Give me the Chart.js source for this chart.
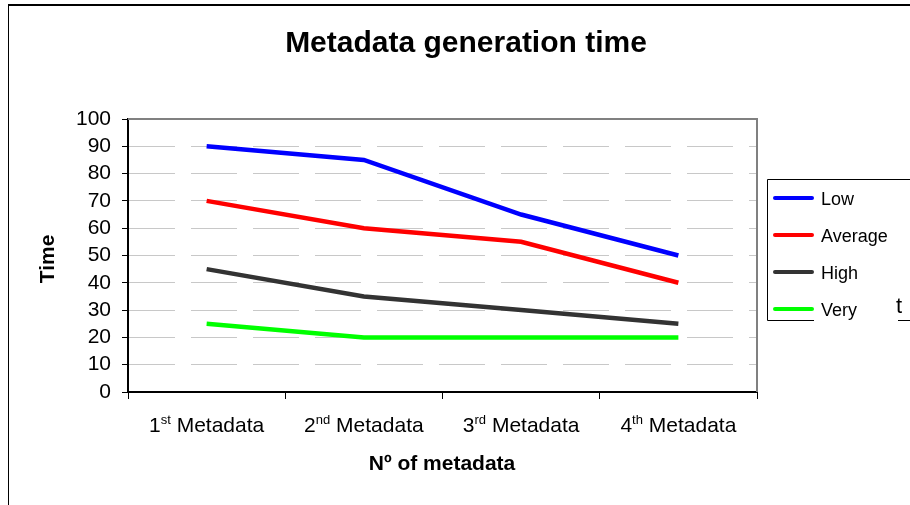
<!DOCTYPE html>
<html><head><meta charset="utf-8">
<script src="https://cdn.jsdelivr.net/npm/chart.js@4"></script>
<style>html,body{margin:0;padding:0;background:#fff}#wrap{width:910px;height:505px}</style>
</head><body><div id="wrap"><canvas id="c" width="910" height="505"></canvas></div>
<script>
const categoryNumbers = ['1', '2', '3', '4'];
const categorySuffixes = ['st', 'nd', 'rd', 'th'];
const categoryWord = 'Metadata';
const seriesNames = ['Low', 'Average', 'High', 'Very'];
const lowValues = [90, 85, 65, 50];
const averageValues = [70, 60, 55, 40];
const highValues = [45, 35, 30, 25];
const veryValues = [25, 20, 20, 20];
const yMin = 0, yMax = 100, yStep = 10;
const chartTitle = 'Metadata generation time';
const xTitle = 'Nº of metadata';
const yTitle = 'Time';
const strayText = 't';

const FONT = '"Liberation Sans", Arial, Helvetica, sans-serif';
const seriesColors = ['#0000ff', '#ff0000', '#333333', '#00ff00'];
const seriesValues = [lowValues, averageValues, highValues, veryValues];
const labels = categoryNumbers.map((n, i) => n + categorySuffixes[i] + ' ' + categoryWord);

const decor = {
  id: 'decor',
  afterDraw(chart) {
    const ctx = chart.ctx;
    const area = chart.chartArea;
    const xs = chart.scales.x;
    ctx.save();
    // outer frame
    ctx.fillStyle = '#000';
    ctx.fillRect(8, 4, 902, 2);
    ctx.fillRect(8, 4, 1, 501);
    // plot top/right border
    ctx.strokeStyle = '#808080';
    ctx.lineWidth = 2;
    ctx.beginPath();
    ctx.moveTo(area.left, area.top);
    ctx.lineTo(area.right, area.top);
    ctx.lineTo(area.right, area.bottom);
    ctx.stroke();
    // title
    ctx.fillStyle = '#000';
    ctx.textAlign = 'center';
    ctx.textBaseline = 'alphabetic';
    ctx.font = 'bold 30px ' + FONT;
    ctx.fillText(chartTitle, 466, 52);
    // x title
    ctx.font = 'bold 21px ' + FONT;
    ctx.fillText(xTitle, 442, 470);
    // y title
    ctx.save();
    ctx.translate(48, 259);
    ctx.rotate(-Math.PI / 2);
    ctx.textBaseline = 'middle';
    ctx.fillText(yTitle, 0, 0);
    ctx.restore();
    // x labels with superscripts
    ctx.textAlign = 'left';
    ctx.textBaseline = 'alphabetic';
    categoryNumbers.forEach((n, i) => {
      const cx = xs.getPixelForValue(i);
      ctx.font = '21px ' + FONT;
      const wn = ctx.measureText(n).width;
      const ww = ctx.measureText(' ' + categoryWord).width;
      ctx.font = '13px ' + FONT;
      const ws = ctx.measureText(categorySuffixes[i]).width;
      let x = cx - (wn + ws + ww) / 2;
      const base = 432;
      ctx.font = '21px ' + FONT;
      ctx.fillText(n, x, base); x += wn;
      ctx.font = '13px ' + FONT;
      ctx.fillText(categorySuffixes[i], x, base - 8); x += ws;
      ctx.font = '21px ' + FONT;
      ctx.fillText(' ' + categoryWord, x, base);
    });
    // legend
    ctx.strokeStyle = '#000';
    ctx.lineWidth = 1;
    ctx.beginPath();
    ctx.moveTo(910, 179.5); ctx.lineTo(767.5, 179.5); ctx.lineTo(767.5, 320.5); ctx.lineTo(814, 320.5);
    ctx.moveTo(898, 320.5); ctx.lineTo(910, 320.5);
    ctx.stroke();
    chart.data.datasets.forEach((ds, i) => {
      const y = 198 + 37 * i;
      ctx.strokeStyle = ds.borderColor;
      ctx.lineWidth = 4;
      ctx.lineCap = 'round';
      ctx.beginPath(); ctx.moveTo(775, y); ctx.lineTo(812, y); ctx.stroke();
      ctx.fillStyle = '#000';
      ctx.font = '18px ' + FONT;
      ctx.textBaseline = 'middle';
      ctx.fillText(ds.label, 821, y + 2);
    });
    ctx.textBaseline = 'alphabetic';
    ctx.font = '22px ' + FONT;
    ctx.fillText(strayText, 896, 313);
    ctx.restore();
  }
};

new Chart(document.getElementById('c'), {
  type: 'line',
  data: {
    labels: labels,
    datasets: seriesNames.map((name, i) => ({
      label: name,
      data: seriesValues[i],
      borderColor: seriesColors[i],
      backgroundColor: seriesColors[i],
      borderWidth: 4.5,
      pointRadius: 0,
      tension: 0,
      fill: false
    }))
  },
  options: {
    responsive: false,
    animation: false,
    devicePixelRatio: 1,
    layout: { padding: { left: 0, top: 119, right: 153, bottom: 0 } },
    plugins: { legend: { display: false }, title: { display: false }, tooltip: { enabled: false } },
    scales: {
      x: {
        type: 'category',
        offset: true,
        grid: { offset: true, drawOnChartArea: false, tickLength: 7, tickColor: '#000', tickWidth: 1 },
        border: { color: '#000', width: 2 },
        ticks: { display: false },
        afterFit(s) { s.height = 113; }
      },
      y: {
        min: yMin, max: yMax,
        ticks: { stepSize: yStep, autoSkip: false, color: '#000', padding: 11, font: { size: 21, family: FONT } },
        grid: { color: '#c8c8c8', lineWidth: 1, tickColor: '#000', tickLength: 6 },
        border: { color: '#000', width: 2, dash: [46, 16] },
        afterFit(s) { s.width = 128; },
        afterBuildTicks(s) {
          const t = [];
          for (let v = yMin; v <= yMax; v += yStep) t.push({ value: v });
          s.ticks = t;
        }
      }
    }
  },
  plugins: [decor]
});
</script>
</body></html>
